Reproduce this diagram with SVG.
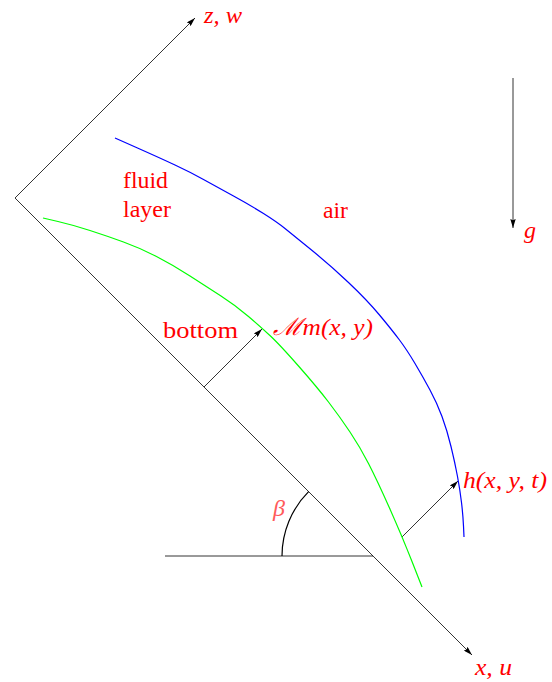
<svg xmlns="http://www.w3.org/2000/svg" width="552" height="682" viewBox="0 0 552 682">
  <style>
    .ax { stroke: #000; stroke-width: 0.8; fill: none; }
    .arr { stroke: #000; stroke-width: 0.8; fill: none; marker-end: url(#tip); }
    .lbl { fill: #ff0000; font-family: "Liberation Serif", "DejaVu Serif", serif; font-size: 24px; }
    .math { fill: #ff0000; font-family: "Liberation Serif", "DejaVu Serif", serif; font-size: 24px; font-style: italic; }
  </style>
  <defs>
    <marker id="tip" viewBox="0 0 10 6" refX="10" refY="3" markerWidth="9" markerHeight="5.6" markerUnits="userSpaceOnUse" orient="auto">
      <path d="M0,0 L10,3 L0,6 L1.5,3 z" fill="#000"/>
    </marker>
  </defs>
  <rect width="552" height="682" fill="#fff"/>

  <g id="connectors">
    <path id="z-axis" class="arr" d="M15,198 L195,18"/>
    <path id="x-axis" class="arr" d="M15,198 L472,655"/>
    <path id="horizontal" class="ax" d="M165,556 L373,556"/>
    <path id="beta-arc" d="M282,556 A91,91 0 0 1 308.6,491.7" stroke="#000" stroke-width="1.2" fill="none"/>
    <path id="m-arrow" class="arr" d="M204,387 L262,329"/>
    <path id="h-arrow" class="arr" d="M402,537 L458,481"/>
    <path id="g-arrow" class="arr" d="M513,78 L513,228"/>
  </g>

  <g id="bottom-curve">
    <path d="M43,218 L58,221.5 Q73,225 90,230.5 Q107,236 123.5,242 Q140,248 156.5,256.5 Q173,265 190,276 Q207,287 221,296 Q235,305 248.5,316.5 Q262,328 271,336.5 Q280,345 298.5,366 Q317,387 328.5,402 Q340,417 350,432 Q360,447 368.5,463.5 Q377,480 389.5,508 Q402,536 412,561.5 L422,587" stroke="#00ff00" stroke-width="1.2" fill="none"/>
  </g>

  <g id="surface-curve">
    <path d="M115,138 L137.5,148 Q160,158 175,165 Q190,172 203.5,179.5 Q217,187 233.5,196 Q250,205 263.5,213.5 Q277,222 285,228.5 Q293,235 311.5,250 Q330,265 348.5,282.5 Q367,300 379.5,315 Q392,330 399.5,340 Q407,350 415,363.5 Q423,377 430,390 Q437,403 442,416.5 Q447,430 451,446.5 Q455,463 457.5,476.5 Q460,490 461.5,502.5 Q463,515 463.5,526 L464,537" stroke="#0000ff" stroke-width="1.2" fill="none"/>
  </g>

  <g id="labels">
    <text id="lbl-zw" class="math" x="204" y="23" textLength="38" lengthAdjust="spacingAndGlyphs">z, w</text>
    <text id="lbl-xu" class="math" x="475" y="675" textLength="37" lengthAdjust="spacingAndGlyphs">x, u</text>
    <text id="lbl-g" class="math" x="524" y="238">g</text>
    <text id="lbl-fluid" class="lbl" x="123" y="188" textLength="45" lengthAdjust="spacingAndGlyphs">fluid</text>
    <text id="lbl-layer" class="lbl" x="123" y="217" textLength="48" lengthAdjust="spacingAndGlyphs">layer</text>
    <text id="lbl-air" class="lbl" x="323" y="218" textLength="25" lengthAdjust="spacingAndGlyphs">air</text>
    <text id="lbl-bottom" class="lbl" x="163" y="338" textLength="75" lengthAdjust="spacingAndGlyphs">bottom</text>
    <text id="lbl-m" class="math" x="273" y="335" textLength="100" lengthAdjust="spacingAndGlyphs">ℳm(x, y)</text>
    <text id="lbl-h" class="math" x="463" y="488" textLength="84" lengthAdjust="spacingAndGlyphs">h(x, y, t)</text>
    <text id="lbl-beta" class="math" x="273" y="516" style="fill:#ff5a5a">β</text>
  </g>
</svg>
